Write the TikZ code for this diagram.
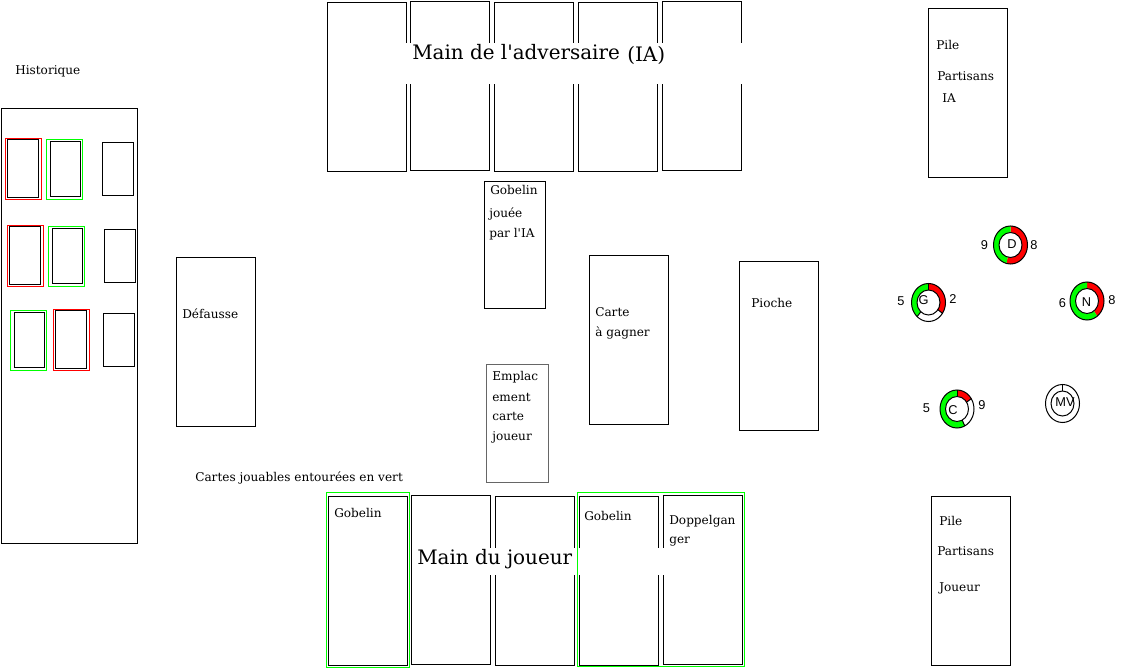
\documentclass[tikz,border=0pt]{standalone}
\usepackage{fontspec}
\setmainfont{DejaVu Serif}
\newfontfamily\lblfont{Liberation Sans}
\tikzset{
  cardbox/.style={draw=black,line width=.75pt,inner sep=0pt,outer sep=0pt,fill=none},
  greenbox/.style={draw=green,line width=.75pt,inner sep=0pt,outer sep=0pt,fill=none},
  redbox/.style={draw=red,line width=.75pt,inner sep=0pt,outer sep=0pt,fill=none},
  txt/.style={font=\fontsize{9.07pt}{11pt}\selectfont,anchor=west,inner sep=0pt,text=black},
  bigtxt/.style={font=\fontsize{14.95pt}{18pt}\selectfont,anchor=west,inner sep=0pt,text=black},
  lbl/.style={font=\lblfont\fontsize{9.6pt}{11pt}\selectfont,inner sep=0pt,text=black},
  whitepatch/.style={fill=white,draw=none,inner sep=0pt,outer sep=0pt},
  ringedge/.style={draw=black,line width=.75pt},
}
% \bx{style}{name}{x1}{y1}{x2}{y2}
\newcommand{\bx}[6]{\node[#1,minimum width={(#5-#3)*.75pt},minimum height={(#6-#4)*.75pt}] (#2) at ({(#3+#5)/2},{(#4+#6)/2}) {};}
% \ringseg{cx}{cy}{from}{to}{colour}: clockwise from the top
\newcommand{\ringseg}[5]{\fill[#5] plot[domain=#3:#4,samples=30] ({#1+17*sin(\x)},{#2-19*cos(\x)}) -- plot[domain=#4:#3,samples=30] ({#1+11.5*sin(\x)},{#2-12.5*cos(\x)}) -- cycle;}
\newcommand{\ringlines}[2]{%
  \draw[ringedge] (#1,#2) ellipse [x radius=17*.75pt,y radius=19*.75pt];
  \draw[ringedge] (#1,#2) ellipse [x radius=11.5*.75pt,y radius=12.5*.75pt];}
% \ringtick{cx}{cy}{angle}
\newcommand{\ringtick}[3]{\draw[ringedge] ({#1+11.5*sin(#3)},{#2-12.5*cos(#3)}) -- ({#1+17*sin(#3)},{#2-19*cos(#3)});}
\begin{document}
\begin{tikzpicture}[x=.75pt,y=-.75pt]
\useasboundingbox (0,0) rectangle (1142,670);
\fill[white] (0,0) rectangle (1142,670);
% opponent hand
\bx{cardbox}{oa}{327.5}{2.5}{406.5}{171.5}
\bx{cardbox}{ob}{410.5}{1.5}{489.5}{170.5}
\bx{cardbox}{oc}{494.5}{2.5}{573.5}{171.5}
\bx{cardbox}{od}{578.5}{2.5}{657.5}{171.5}
\bx{cardbox}{oe}{662.5}{1.5}{741.5}{170.5}
\fill[whitepatch] (405.5,43) rectangle (742.5,84);
\node[bigtxt] (ttop) at (412,52.5) {Main de l\textquotesingle adversaire};
\node[bigtxt] (ttopb) at (627,55) {(IA)};
% history
\node[txt] (thist) at (15,71) {Historique};
\bx{cardbox}{hist}{1.5}{108.5}{137.5}{543.5}
\bx{redbox}{h1r}{5.5}{138.5}{41.5}{199.5}
\bx{cardbox}{h1}{7.5}{139.5}{38.5}{197.5}
\bx{greenbox}{h2g}{46.5}{139.5}{82.5}{199.5}
\bx{cardbox}{h2}{50.5}{141.5}{80.5}{196.5}
\bx{cardbox}{h3}{102.5}{142.5}{133.5}{195.5}
\bx{redbox}{h4r}{7.5}{225.5}{43.5}{286.5}
\bx{cardbox}{h4}{9.5}{226.5}{40.5}{284.5}
\bx{greenbox}{h5g}{48.5}{226.5}{84.5}{286.5}
\bx{cardbox}{h5}{52.5}{228.5}{82.5}{283.5}
\bx{cardbox}{h6}{104.5}{229.5}{135.5}{282.5}
\bx{greenbox}{h7g}{10.5}{310.5}{46.5}{370.5}
\bx{cardbox}{h7}{14.5}{312.5}{44.5}{367.5}
\bx{redbox}{h8r}{53.5}{309.5}{89.5}{370.5}
\bx{cardbox}{h8}{55.5}{310.5}{86.5}{368.5}
\bx{cardbox}{h9}{103.5}{313.5}{134.5}{366.5}
% discard
\bx{cardbox}{def}{176.5}{257.5}{255.5}{426.5}
\node[txt] (tdef) at (182,313.5) {Défausse};
% centre
\bx{cardbox}{ia}{484.5}{181.5}{545.5}{308.5}
\node[txt] (tia1) at (490,190) {Gobelin};
\node[txt] (tia2) at (489,214) {jouée};
\node[txt] (tia3) at (489,234) {par l\textquotesingle IA};
\bx{cardbox}{win}{589.5}{255.5}{668.5}{424.5}
\node[txt] (twin1) at (595,312) {Carte};
\node[txt] (twin2) at (595,333) {à gagner};
\bx{cardbox}{pio}{739.5}{261.5}{818.5}{430.5}
\node[txt] (tpio) at (751,302.5) {Pioche};
\node[draw=black!60,line width=.75pt,inner sep=0pt,outer sep=0pt,minimum width=62*.75pt,minimum height=118*.75pt] (emp) at (517.5,423.5) {};
\node[txt] (te1) at (492,377) {Emplac};
\node[txt] (te2) at (492,397) {ement};
\node[txt] (te3) at (492,416.5) {carte};
\node[txt] (te4) at (492,437) {joueur};
\node[txt] (tjou) at (195,478) {Cartes jouables entourées en vert};
% player hand
\bx{greenbox}{pag}{326.5}{492.5}{409.5}{667.5}
\bx{cardbox}{pa}{328.5}{496.5}{407.5}{665.5}
\bx{cardbox}{pb}{411.5}{495.5}{490.5}{664.5}
\bx{cardbox}{pc}{495.5}{496.5}{574.5}{665.5}
\bx{cardbox}{pd}{579.5}{496.5}{658.5}{665.5}
\bx{cardbox}{pe}{663.5}{495.5}{742.5}{664.5}
\fill[whitepatch] (489.5,548) rectangle (664.5,575);
\bx{greenbox}{pdg}{577.5}{492.5}{744.5}{666.5}
\node[bigtxt] (tbot) at (417,559.5) {Main du joueur};
\node[txt] (tpa) at (334,512.5) {Gobelin};
\node[txt] (tpd) at (584,515.5) {Gobelin};
\node[txt] (tpe1) at (669,521.5) {Doppelgan};
\node[txt] (tpe2) at (669,542) {ger};
% piles
\bx{cardbox}{pia}{928.5}{8.5}{1007.5}{177.5}
\node[txt] (tp1) at (936,44.5) {Pile};
\node[txt] (tp2) at (937,76) {Partisans};
\node[txt] (tp3) at (942,98.5) {IA};
\bx{cardbox}{pjo}{931.5}{496.5}{1010.5}{665.5}
\node[txt] (tq1) at (939,520.5) {Pile};
\node[txt] (tq2) at (937,551.5) {Partisans};
\node[txt] (tq3) at (939,588) {Joueur};
% rings
\ringseg{1010.5}{245}{0}{194}{red}
\ringseg{1010.5}{245}{194}{360}{green}
\ringlines{1010.5}{245}
\node[lbl] (rd) at (1012,244) {D};
\node[lbl] (rd1) at (984.5,245) {9};
\node[lbl] (rd2) at (1034,245) {8};
\ringseg{928.5}{302.5}{0}{125}{red}
\ringseg{928.5}{302.5}{222}{360}{green}
\ringlines{928.5}{302.5}
\ringtick{928.5}{302.5}{0}
\ringtick{928.5}{302.5}{125}
\ringtick{928.5}{302.5}{222}
\node[lbl] (rg) at (923.5,300) {G};
\node[lbl] (rg1) at (901,301) {5};
\node[lbl] (rg2) at (953,299) {2};
\ringseg{1087}{301}{0}{143}{red}
\ringseg{1087}{301}{143}{360}{green}
\ringlines{1087}{301}
\node[lbl] (rn) at (1086.5,302) {N};
\node[lbl] (rn1) at (1062.5,303) {6};
\node[lbl] (rn2) at (1112,300) {8};
\ringseg{957}{409}{0}{57}{red}
\ringseg{957}{409}{153}{360}{green}
\ringlines{957}{409}
\ringtick{957}{409}{0}
\ringtick{957}{409}{57}
\ringtick{957}{409}{153}
\node[lbl] (rc) at (953,410) {C};
\node[lbl] (rc1) at (926.5,408) {5};
\node[lbl] (rc2) at (982,405) {9};
\ringlines{1062.5}{403.5}
\ringtick{1062.5}{403.5}{0}
\node[lbl] (rm) at (1065,402) {MV};
\end{tikzpicture}
\end{document}
